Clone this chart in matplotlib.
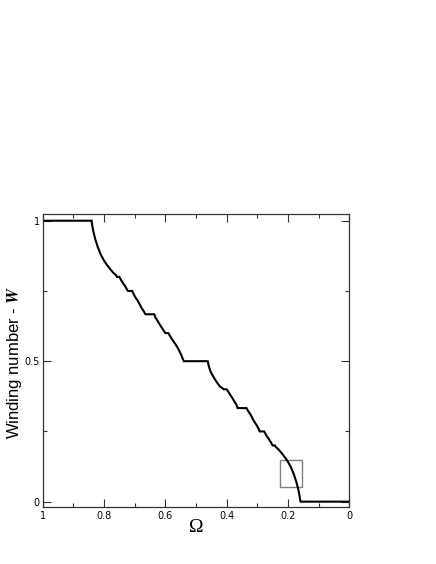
import matplotlib
matplotlib.use("Agg")
import matplotlib.pyplot as plt
from matplotlib.patches import Rectangle
from matplotlib.ticker import MultipleLocator

plt.rcParams['mathtext.fontset'] = 'stix'

# Devil's staircase: frequency ratio Omega vs winding number W
omega = [1.000, 0.840, 0.840, 0.838, 0.834, 0.828, 0.820, 0.810, 0.800, 0.790,
         0.780, 0.770, 0.760, 0.758, 0.750, 0.745, 0.738, 0.730, 0.725, 0.722,
         0.708, 0.704, 0.698, 0.690, 0.685, 0.678, 0.670, 0.665, 0.636, 0.632,
         0.625, 0.618, 0.612, 0.605, 0.600, 0.590, 0.585, 0.578, 0.570, 0.562,
         0.555, 0.548, 0.543, 0.540, 0.462, 0.460, 0.457, 0.452, 0.445, 0.438,
         0.430, 0.422, 0.415, 0.410, 0.400, 0.395, 0.388, 0.382, 0.375, 0.368,
         0.364, 0.335, 0.330, 0.322, 0.315, 0.310, 0.302, 0.296, 0.292, 0.278,
         0.275, 0.270, 0.262, 0.255, 0.250, 0.242, 0.240, 0.230, 0.220, 0.210,
         0.200, 0.190, 0.180, 0.172, 0.166, 0.162, 0.160, 0.159, 0.000]
winding = [1.000, 1.000, 0.995, 0.980, 0.958, 0.932, 0.905, 0.878, 0.858, 0.842,
           0.828, 0.815, 0.805, 0.800, 0.800, 0.790, 0.778, 0.765, 0.755, 0.750,
           0.750, 0.740, 0.728, 0.715, 0.705, 0.690, 0.677, 0.667, 0.667, 0.655,
           0.643, 0.630, 0.620, 0.608, 0.600, 0.600, 0.590, 0.578, 0.565, 0.552,
           0.538, 0.522, 0.508, 0.500, 0.500, 0.492, 0.478, 0.462, 0.448, 0.435,
           0.422, 0.410, 0.405, 0.400, 0.400, 0.392, 0.380, 0.370, 0.357, 0.345,
           0.333, 0.333, 0.323, 0.310, 0.295, 0.285, 0.272, 0.260, 0.250, 0.250,
           0.245, 0.235, 0.222, 0.210, 0.200, 0.200, 0.195, 0.185, 0.172, 0.158,
           0.142, 0.122, 0.095, 0.068, 0.042, 0.020, 0.005, 0.000, 0.000]

x_ticks = [1, 0.8, 0.6, 0.4, 0.2, 0]
x_tick_labels = ["1", "0.8", "0.6", "0.4", "0.2", "0"]
y_ticks = [0, 0.5, 1]
y_tick_labels = ["0", "0.5", "1"]

# zoom box (data coords)
box_x = [0.153, 0.226]
box_y = [0.053, 0.148]

fig = plt.figure(figsize=(4.36, 5.64), dpi=100)
ax = fig.add_axes([0.098, 0.1016, 0.703, 0.519])

ax.plot(omega, winding, color='black', lw=1.5, solid_joinstyle='miter')
ax.add_patch(Rectangle((box_x[0], box_y[0]), box_x[1] - box_x[0], box_y[1] - box_y[0],
                       fill=False, edgecolor='#808080', lw=1.0))

ax.set_xlim(1, 0)
ax.set_ylim(-0.018, 1.024)

ax.set_xticks(x_ticks)
ax.set_xticklabels(x_tick_labels)
ax.set_yticks(y_ticks)
ax.set_yticklabels(y_tick_labels)
ax.xaxis.set_minor_locator(MultipleLocator(0.1))
ax.yaxis.set_minor_locator(MultipleLocator(0.25))

ax.tick_params(which='both', direction='in', top=True, right=True,
               color='#333333', width=0.8, labelsize=7)
ax.tick_params(which='major', length=6, pad=3)
ax.tick_params(which='minor', length=3)
ax.tick_params(axis='y', which='major', pad=2)

for sp in ax.spines.values():
    sp.set_color('#333333')
    sp.set_linewidth(0.9)

fig.text(196 / 436, 1 - 528 / 564, "Ω", family='Liberation Serif',
         fontsize=14, ha='center', va='center')
fig.text(15 / 436, 1 - 362 / 564, r"Winding number - $\mathbfit{W}$",
         family='Liberation Sans', fontsize=12, rotation=90,
         ha='center', va='center')

fig.savefig("out.png", dpi=100)
